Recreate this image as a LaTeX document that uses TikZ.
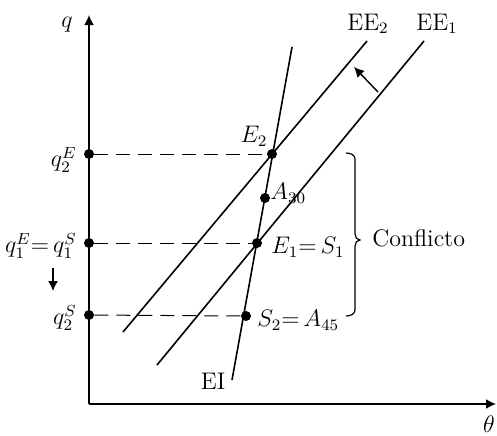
\documentclass[tikz,border=0pt]{standalone}
\usetikzlibrary{arrows.meta}
\begin{document}
\begin{tikzpicture}[x=0.5pt, y=-0.5pt,
  font=\large, >={Latex[length=5pt,width=5pt]},
  ax/.style={->, line width=0.8pt},
  ln/.style={line width=0.8pt},
  gd/.style={line width=0.5pt, dash pattern=on 7pt off 4pt},
  pt/.style={circle, fill, inner sep=0pt, minimum size=5pt},
  lbl/.style={inner sep=1pt}]
\useasboundingbox (0,0) rectangle (497,435);
% axes
\coordinate (O) at (89,404);
\coordinate (qtop) at (89,15);
\coordinate (thend) at (496,404);
\draw[ax] (O) -- (qtop);
\draw[ax] (O) -- (thend);
\node (q) at (67,25) {$q$};
\node (th) at (489,424) {$\theta$};
% curves
\coordinate (EIa) at (232,380); \coordinate (EIb) at (292,47);
\coordinate (EEa2) at (123,332); \coordinate (EEb2) at (367,41);
\coordinate (EEa1) at (157,365); \coordinate (EEb1) at (424,41);
\draw[ln] (EIa) -- (EIb);
\draw[ln] (EEa2) -- (EEb2);
\draw[ln] (EEa1) -- (EEb1);
\node (ee2) at (368,24) {EE$_2$};
\node (ee1) at (437,24) {EE$_1$};
\node (ei) at (213,381) {EI};
% shift of EE
\coordinate (sh1) at (378,92); \coordinate (sh2) at (354,67);
\draw[->, line width=0.7pt] (sh1) -- (sh2);
% points
\node[pt] (q2E) at (89,154) {};
\node[pt] (q1) at (89,243) {};
\node[pt] (q2S) at (89,315) {};
\node[pt] (E2) at (272,154) {};
\node[pt] (A30) at (265,198) {};
\node[pt] (E1) at (257,243) {};
\node[pt] (S2) at (246,316) {};
\draw[gd] (q2E) -- (E2);
\draw[gd] (q1) -- (E1);
\draw[gd] (q2S) -- (S2);
\node[lbl] (lE2) at (254,136) {$E_2$};
\node[lbl, anchor=west] (lA30) at (268,193) {$A_{30}$};
\node[lbl, anchor=west] (lE1) at (269,247) {$E_1{=}\,S_1$};
\node[lbl, anchor=west] (lS2) at (255,320) {$S_2{=}\,A_{45}$};
\node[lbl, anchor=east] (lq2E) at (79,160) {$q_2^E$};
\node[lbl, anchor=east] (lq1) at (79,246) {$q_1^E{=}\,q_1^S$};
\node[lbl, anchor=east] (lq2S) at (79,318) {$q_2^S$};
\coordinate (dn1) at (53,268); \coordinate (dn2) at (53,291);
\draw[->, line width=0.7pt] (dn1) -- (dn2);
% conflict bracket
\coordinate (brt) at (346,153); \coordinate (brm) at (360,240); \coordinate (brb) at (346,316);
\draw[line width=0.6pt] (brt) to[out=0,in=90] (355,159) -- (355,234)
  to[out=-90,in=180] (brm) to[out=180,in=90] (355,246) -- (355,310)
  to[out=-90,in=0] (brb);
\node[lbl, anchor=west] (conf) at (370,238) {Conflicto};
\end{tikzpicture}
\end{document}
